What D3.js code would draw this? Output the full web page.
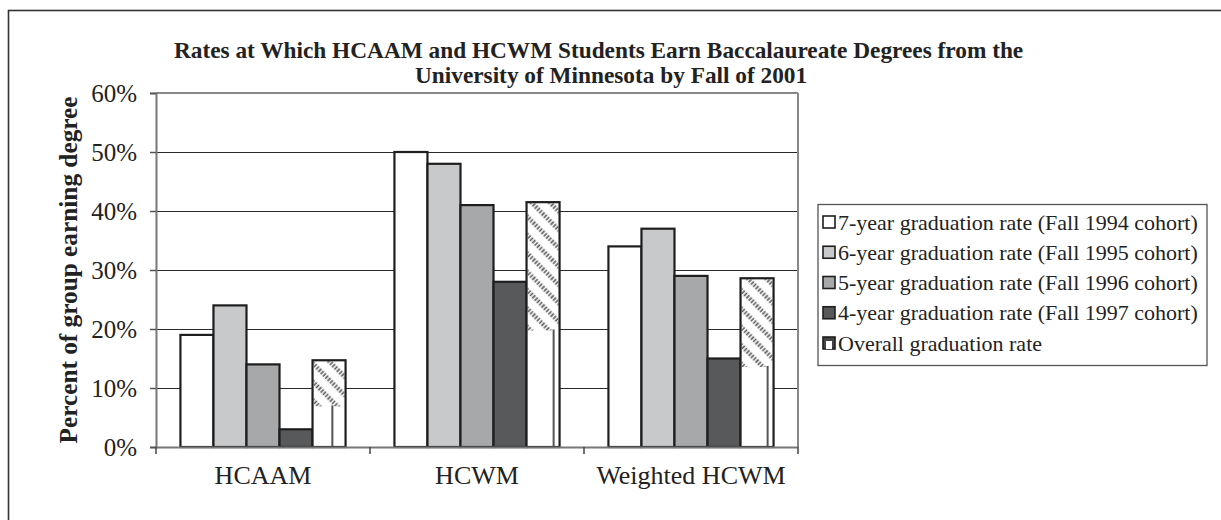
<!DOCTYPE html>
<html><head><meta charset="utf-8">
<script src="https://cdn.jsdelivr.net/npm/d3@7"></script>
<style>
html,body{margin:0;padding:0;background:#fff;}
svg{display:block;font-family:"Liberation Serif","Times New Roman",serif;}
</style></head>
<body>
<svg id="chart" width="1221" height="520"></svg>
<script>
const categories = ["HCAAM", "HCWM", "Weighted HCWM"];
const seriesNames = [
  "7-year graduation rate (Fall 1994 cohort)",
  "6-year graduation rate (Fall 1995 cohort)",
  "5-year graduation rate (Fall 1996 cohort)",
  "4-year graduation rate (Fall 1997 cohort)",
  "Overall graduation rate"
];
const rate7 = [19, 50, 34];
const rate6 = [24, 48, 37];
const rate5 = [14, 41, 29];
const rate4 = [3, 28, 15];
const overall = [14.7, 41.5, 28.6];
const yTicks = [0, 10, 20, 30, 40, 50, 60];
const titleLines = [
  "Rates at Which HCAAM and HCWM Students Earn Baccalaureate Degrees from the",
  "University of Minnesota by Fall of 2001"
];
const yTitle = "Percent of group earning degree";

const seriesValues = [rate7, rate6, rate5, rate4, overall];
const fills = ["#ffffff", "#c8c9cb", "#a7a8aa", "#58595b", "url(#hatch)"];
const overallLineFrac = [0.6, 0.82, 0.82];

const svg = d3.select("#chart");
const defs = svg.append("defs");
const pat = defs.append("pattern").attr("id", "hatch")
  .attr("patternUnits", "userSpaceOnUse").attr("width", 13).attr("height", 13)
  .attr("patternTransform", "rotate(45)");
pat.append("rect").attr("width", 13).attr("height", 13).attr("fill", "#fff");
pat.append("line").attr("x1", 0).attr("x2", 13).attr("y1", 3).attr("y2", 3)
  .attr("stroke", "#5a5a5a").attr("stroke-width", 4.5).attr("stroke-dasharray", "1.6,1.6");

// outer border
svg.append("rect").attr("x", 8.5).attr("y", 10.5).attr("width", 1400).attr("height", 700)
  .attr("fill", "none").attr("stroke", "#333").attr("stroke-width", 1.6);

const plot = {left: 156, right: 798, top: 93, bottom: 447};
const x0 = d3.scaleBand().domain(categories).range([plot.left, plot.right]).paddingInner(0).paddingOuter(0);
const x1 = d3.scaleBand().domain(d3.range(seriesNames.length)).range([0, x0.bandwidth()]).paddingOuter(0.74).paddingInner(0);
const y = d3.scaleLinear().domain([0, 60]).range([plot.bottom, plot.top]);

// gridlines
svg.append("g").selectAll("line").data(yTicks.filter(t => t > 0 && t < 60)).join("line")
  .attr("x1", plot.left).attr("x2", plot.right)
  .attr("y1", d => y(d) + 0.5).attr("y2", d => y(d) + 0.5)
  .attr("stroke", "#2a2a2a").attr("stroke-width", 1.2);
// plot border top/right
svg.append("line").attr("x1", plot.left).attr("x2", plot.right).attr("y1", y(60)).attr("y2", y(60))
  .attr("stroke", "#888").attr("stroke-width", 2);
svg.append("line").attr("x1", plot.right).attr("x2", plot.right).attr("y1", y(60)).attr("y2", plot.bottom)
  .attr("stroke", "#888").attr("stroke-width", 2);

// bars
const groups = svg.append("g").selectAll("g").data(categories).join("g")
  .attr("transform", d => `translate(${x0(d)},0)`);
groups.each(function(cat, ci) {
  const g = d3.select(this);
  seriesValues.forEach((vals, si) => {
    const v = vals[ci];
    const bx = x1(si), bw = x1.bandwidth();
    const top = y(v), h = y(0) - y(v);
    if (si < 4) {
      g.append("rect").attr("x", bx).attr("y", top).attr("width", bw).attr("height", h)
        .attr("fill", fills[si]).attr("stroke", "#1e1e1e").attr("stroke-width", 2.2);
    } else {
      g.append("rect").attr("x", bx).attr("y", top).attr("width", bw).attr("height", h)
        .attr("fill", "#fff");
      const hEnd = top + h * 0.52;
      g.append("rect").attr("x", bx + 1).attr("y", top + 1).attr("width", bw - 2).attr("height", hEnd - top)
        .attr("fill", "url(#hatch)");
      const lx = bx + bw * overallLineFrac[ci];
      g.append("line").attr("x1", lx).attr("x2", lx).attr("y1", hEnd).attr("y2", y(0))
        .attr("stroke", "#555").attr("stroke-width", 2);
      g.append("rect").attr("x", bx).attr("y", top).attr("width", bw).attr("height", h)
        .attr("fill", "none").attr("stroke", "#1e1e1e").attr("stroke-width", 2.2);
    }
  });
});

// y axis
const yAxis = d3.axisLeft(y).tickValues(yTicks).tickFormat(d => d + "%").tickSize(6).tickPadding(13);
const yg = svg.append("g").attr("transform", `translate(${plot.left},0)`).call(yAxis);
yg.select(".domain").attr("stroke", "#777").attr("stroke-width", 2);
yg.selectAll(".tick line").attr("stroke", "#555").attr("stroke-width", 1.5);
yg.selectAll(".tick text").attr("font-family", "Liberation Serif").attr("font-size", 25).attr("fill", "#222");

// x axis
const xAxis = d3.axisBottom(x0).tickSize(0).tickPadding(19);
const xg = svg.append("g").attr("transform", `translate(0,${plot.bottom})`).call(xAxis);
xg.select(".domain").attr("stroke", "#777").attr("stroke-width", 2);
xg.selectAll(".tick text").attr("font-family", "Liberation Serif").attr("font-size", 26).attr("fill", "#222");
const boundaries = categories.map(c => x0(c)).concat([plot.right]);
svg.append("g").selectAll("line").data(boundaries).join("line")
  .attr("x1", d => d).attr("x2", d => d).attr("y1", plot.bottom).attr("y2", plot.bottom + 7)
  .attr("stroke", "#444").attr("stroke-width", 1.5);

// title
svg.append("g").selectAll("text").data(titleLines).join("text")
  .attr("x", (d, i) => i === 0 ? 174 : 415)
  .attr("y", (d, i) => 58 + i * 25)
  .attr("text-anchor", "start").attr("font-weight", "bold").attr("font-size", 23.3)
  .attr("fill", "#222").text(d => d);

// y title
svg.append("text").attr("transform", `translate(77,270) rotate(-90)`)
  .attr("text-anchor", "middle").attr("font-weight", "bold").attr("font-size", 25.3)
  .attr("fill", "#222").text(yTitle);

// legend
const lg = svg.append("g");
lg.append("rect").attr("x", 818).attr("y", 204.5).attr("width", 389).attr("height", 161)
  .attr("fill", "#fff").attr("stroke", "#555").attr("stroke-width", 1.3);
const ly = d3.scalePoint().domain(d3.range(seriesNames.length)).range([222, 343]);
const items = lg.selectAll("g").data(seriesNames).join("g")
  .attr("transform", (d, i) => `translate(0,${ly(i)})`);
items.append("rect").attr("x", 823).attr("y", -6).attr("width", 12).attr("height", 12)
  .attr("fill", (d, i) => i < 4 ? fills[i] : "#444").attr("stroke", "#1e1e1e").attr("stroke-width", 1.6);
items.filter((d, i) => i === 4).append("path").attr("d", "M826,6 V-2 H832 V6").attr("fill", "#fff").attr("stroke", "none");
items.append("text").attr("x", 838).attr("y", 0).attr("dy", "0.35em")
  .attr("font-size", 22).attr("fill", "#222").text(d => d);
</script>
</body></html>
